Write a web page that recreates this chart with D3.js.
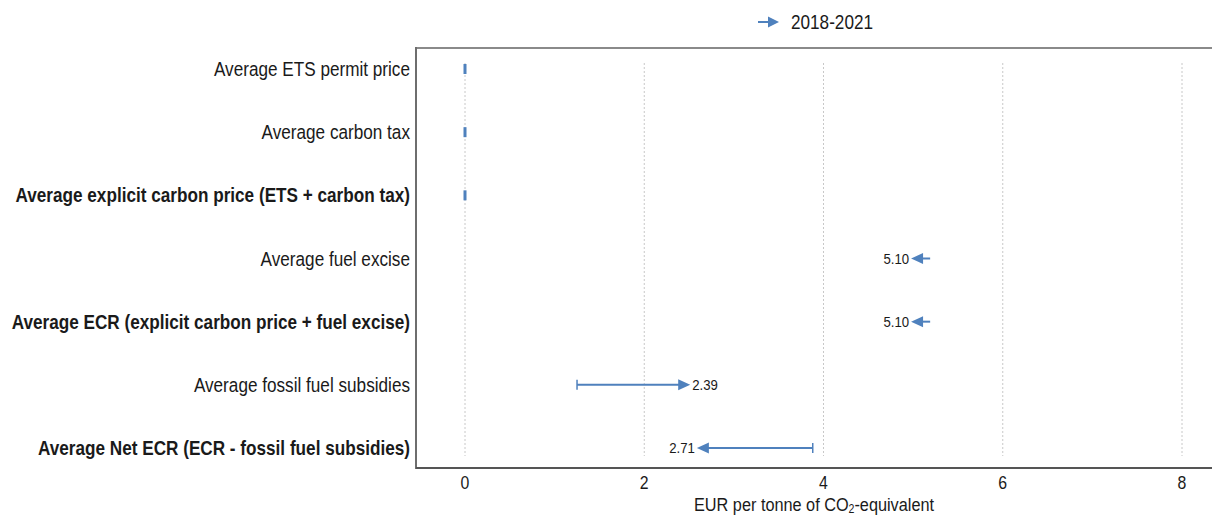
<!DOCTYPE html>
<html><head><meta charset="utf-8">
<script src="https://cdn.jsdelivr.net/npm/d3@7"></script>
<style>
html,body{margin:0;padding:0;background:#fff;}
svg text{font-family:"Liberation Sans",Arial,sans-serif;fill:#1a1a1a;}
</style></head>
<body>
<svg id="chart" width="1212" height="515"></svg>
<script>
const categories = [
  "Average ETS permit price",
  "Average carbon tax",
  "Average explicit carbon price (ETS + carbon tax)",
  "Average fuel excise",
  "Average ECR (explicit carbon price + fuel excise)",
  "Average fossil fuel subsidies",
  "Average Net ECR (ECR - fossil fuel subsidies)"
];
const boldRows = [false, false, true, false, true, false, true];
const start2018 = [0, 0, 0, 5.19, 5.19, 1.25, 3.88];
const end2021   = [0, 0, 0, 5.10, 5.10, 2.39, 2.71];
const valueLabels = ["", "", "", "5.10", "5.10", "2.39", "2.71"];
const xTicks = [0, 2, 4, 6, 8];
const seriesName = "2018-2021";
const axisTitle = "EUR per tonne of CO";

const blue = "#4f81bd";
const SX = 0.88;
const svg = d3.select("#chart");

const x = d3.scaleLinear().domain([0, 8]).range([465, 1182]);
const y = d3.scalePoint().domain(categories).range([69, 448]);

const frame = {left: 416, top: 48, bottom: 468, right: 1212};

// gridlines
svg.append("g").selectAll("line").data(xTicks).join("line")
  .attr("x1", d => x(d)).attr("x2", d => x(d))
  .attr("y1", 63).attr("y2", 456)
  .attr("stroke", "#c8c8c8").attr("stroke-width", 1)
  .attr("stroke-dasharray", "2,2");

// frame
const fr = svg.append("g").attr("stroke", "#6e6e6e").attr("stroke-width", 2);
fr.append("line").attr("x1", frame.left).attr("x2", frame.right).attr("y1", frame.top).attr("y2", frame.top).attr("stroke", "#8a8a8a");
fr.append("line").attr("x1", frame.left).attr("x2", frame.left).attr("y1", frame.top - 1).attr("y2", frame.bottom + 1);
fr.append("line").attr("x1", frame.left).attr("x2", frame.right).attr("y1", frame.bottom).attr("y2", frame.bottom).attr("stroke", "#555");

// helper for compressed text
function ctext(g, tx, ty, str, size, anchor, weight) {
  const gg = g.append("g").attr("transform", `translate(${tx},${ty}) scale(${SX},1)`);
  return gg.append("text").attr("x", 0).attr("y", 0)
    .attr("font-size", size).attr("text-anchor", anchor)
    .attr("font-weight", weight || "normal").text(str);
}

// row labels
const lab = svg.append("g");
categories.forEach((c, i) => {
  ctext(lab, 410, y(c) + 7, c, 19.5, "end", boldRows[i] ? "bold" : "normal");
});

// tick labels
const tk = svg.append("g");
xTicks.forEach(t => ctext(tk, x(t), 489, String(t), 18, "middle"));

// axis title with subscript
const at = svg.append("g").attr("transform", `translate(814,510.5) scale(${SX},1)`)
  .append("text").attr("font-size", 18.5).attr("text-anchor", "middle");
at.append("tspan").text(axisTitle);
at.append("tspan").attr("font-size", 12).attr("dy", 2).text("2");
at.append("tspan").attr("dy", -2).text("-equivalent");

// arrows
const HEAD = 11, HALF = 5.5;
const ag = svg.append("g");
categories.forEach((c, i) => {
  const s = start2018[i], e = end2021[i], cy = y(c);
  const xs = x(s), xe = x(e);
  if (s === e) {
    ag.append("rect").attr("x", xs - 1.5).attr("y", cy - 5).attr("width", 3).attr("height", 10).attr("fill", blue);
    return;
  }
  const dir = e > s ? 1 : -1;
  ag.append("line").attr("x1", xs).attr("x2", xe).attr("y1", cy).attr("y2", cy)
    .attr("stroke", blue).attr("stroke-width", 2);
  if (Math.abs(xe - xs) > 20) {
    ag.append("line").attr("x1", xs).attr("x2", xs).attr("y1", cy - 5).attr("y2", cy + 5)
      .attr("stroke", blue).attr("stroke-width", 1.5);
  }
  const tip = xe + dir * HEAD;
  ag.append("path")
    .attr("d", `M${xe - dir * 1},${cy - HALF}L${tip},${cy}L${xe - dir * 1},${cy + HALF}Z`)
    .attr("fill", blue);
  if (valueLabels[i]) {
    ctext(ag, tip + dir * 2, cy + 5, valueLabels[i], 15, dir > 0 ? "start" : "end");
  }
});

// legend
const lg = svg.append("g");
lg.append("line").attr("x1", 758).attr("x2", 770).attr("y1", 22).attr("y2", 22)
  .attr("stroke", blue).attr("stroke-width", 2);
lg.append("path").attr("d", "M768,16.5L779,22L768,27.5Z").attr("fill", blue);
ctext(lg, 791, 29, seriesName, 19.5, "start");
</script>
</body></html>
